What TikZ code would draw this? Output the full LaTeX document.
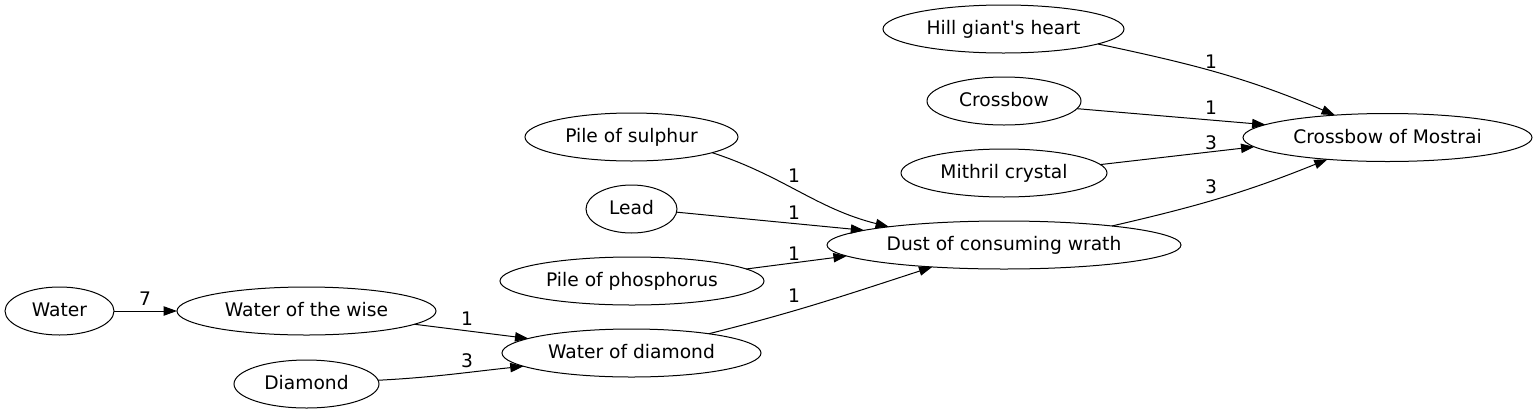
\documentclass[tikz,border=0pt]{standalone}
\usepackage{fontspec}
\setmainfont{DejaVu Sans}[Ligatures=TeXOff]
\usetikzlibrary{arrows.meta,shapes.geometric}
\begin{document}
\begin{tikzpicture}[x=1pt,y=1pt,
  every node/.style={font=\fontsize{18.67}{22}\selectfont},
  item/.style={ellipse,draw,line width=1pt,inner sep=0pt,outer sep=0pt,minimum height=48pt,text height=14pt,text depth=3pt},
  lbl/.style={inner sep=0pt},
  edge/.style={line width=1pt,-{Triangle[length=13.3pt,width=9.3pt]}}]
\useasboundingbox (0,0) rectangle (1539,-413);
% nodes
\node[item,minimum width=109pt] (water) at (59.5,-311) {Water};
\node[item,minimum width=259pt] (wise) at (306.5,-311) {Water of the wise};
\node[item,minimum width=145pt] (diamond) at (306.5,-384) {Diamond};
\node[item,minimum width=259pt] (wod) at (631.5,-353) {Water of diamond};
\node[item,minimum width=213pt] (sulphur) at (631.5,-137) {Pile of sulphur};
\node[item,minimum width=91pt] (lead) at (631.5,-209) {Lead};
\node[item,minimum width=264pt] (phos) at (632,-281) {Pile of phosphorus};
\node[item,minimum width=354pt] (dust) at (1004,-245) {Dust of consuming wrath};
\node[item,minimum width=241pt] (hill) at (1003.5,-29) {Hill giant's heart};
\node[item,minimum width=154pt] (crossbow) at (1004,-101) {Crossbow};
\node[item,minimum width=206pt] (mithril) at (1004,-173) {Mithril crystal};
\node[item,minimum width=289pt] (com) at (1387.5,-137.5) {Crossbow of Mostrai};
% edges
\draw[edge] (water.east) -- (wise.west);
\draw[edge] (wise.-7) -- (wod.172.5);
\draw[edge] (diamond.3.2) to[out=3,in=186] (wod.187.7);
\draw[edge] (sulphur.-11.8) to[out=-18,in=166] (dust.171.25);
\draw[edge] (lead.-4.9) -- (dust.174);
\draw[edge] (phos.6.3) -- (dust.184.8);
\draw[edge] (wod.14.8) to[out=14,in=198] (dust.197.7);
\draw[edge] (hill.-9.3) to[out=-12,in=157] (com.157.9);
\draw[edge] (crossbow.-6.25) -- (com.174.3);
\draw[edge] (mithril.5.4) -- (com.184.8);
\draw[edge] (dust.10.2) to[out=13,in=202] (com.200.3);
% labels
\node[lbl] (l1) at (145,-299) {7};
\node[lbl] (l2) at (467,-319) {1};
\node[lbl] (l3) at (467,-361) {3};
\node[lbl] (l4) at (794,-176) {1};
\node[lbl] (l5) at (794,-213) {1};
\node[lbl] (l6) at (794,-254) {1};
\node[lbl] (l7) at (794,-296) {1};
\node[lbl] (l8) at (1211,-62) {1};
\node[lbl] (l9) at (1211,-108) {1};
\node[lbl] (l10) at (1211,-143) {3};
\node[lbl] (l11) at (1211,-187) {3};
\end{tikzpicture}
\end{document}
